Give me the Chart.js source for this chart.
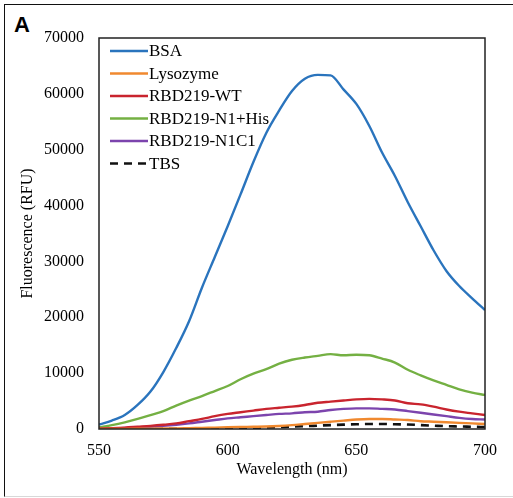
<!DOCTYPE html>
<html>
<head>
<meta charset="utf-8">
<script src="https://cdn.jsdelivr.net/npm/chart.js@4.4.1/dist/chart.umd.min.js"></script>
<style>
  html, body { margin: 0; padding: 0; background: #fff; }
  #wrap { position: relative; width: 513px; height: 498px; overflow: hidden; }
  #frame { position: absolute; left: 4px; top: 4px; width: 560px; height: 491px;
           border-top: 1.5px solid #111; border-left: 1.5px solid #111; border-bottom: 1px solid #d8d8d8; }
  #panel { position: absolute; left: 14px; top: 12px; font: bold 22px "Liberation Sans", Arial, sans-serif; color: #000; }
  canvas { position: absolute; left: 0; top: 0; }
</style>
</head>
<body>
<div id="wrap">
  <div id="frame"></div>
  <div id="panel">A</div>
  <canvas id="c" width="513" height="498"></canvas>
</div>
<script>
const wavelengths = [550,555,560,565,570,575,580,585,590,595,600,605,610,615,620,625,630,635,640,645,650,655,660,665,670,675,680,685,690,695,700];
const seriesNames = ["BSA","Lysozyme","RBD219-WT","RBD219-N1+His","RBD219-N1C1","TBS"];
const bsa      = [800,1500,2500,4300,6700,10200,14500,19300,25300,30800,36300,42000,47800,53000,57000,60500,62700,63400,63300,60800,58200,54300,49500,45300,40600,36300,32000,28300,25600,23400,21300];
const lysozyme = [0,0,20,40,60,80,100,150,200,250,300,350,400,450,550,700,900,1100,1300,1500,1700,1800,1800,1700,1600,1400,1300,1200,1100,1000,900];
const rbdWT    = [100,150,250,400,550,750,1000,1400,1800,2300,2700,3000,3300,3600,3800,4000,4300,4700,4900,5100,5300,5400,5300,5100,4600,4400,4000,3500,3100,2800,2500];
const rbdN1His = [300,700,1200,1800,2500,3200,4200,5100,5900,6800,7700,8900,9900,10700,11700,12400,12800,13100,13400,13200,13300,13200,12600,11900,10600,9600,8700,7900,7100,6500,6100];
const rbdN1C1  = [50,100,200,300,400,550,750,1000,1300,1600,1900,2100,2300,2500,2700,2800,3000,3100,3400,3600,3700,3700,3600,3500,3200,2900,2600,2300,2000,1800,1700];
const tbs      = [0,0,0,0,0,20,40,60,80,90,100,150,200,280,350,420,500,600,700,780,850,900,900,850,800,700,600,500,450,400,350];
const xTicks = [550,600,650,700];
const yTicks = [0,10000,20000,30000,40000,50000,60000,70000];

const colors = ["#2a74bd","#f0892f","#c9242e","#74b043","#7c44ad","#111111"];
const allSeries = [bsa, lysozyme, rbdWT, rbdN1His, rbdN1C1, tbs];

const datasets = seriesNames.map((name, i) => ({
  label: name,
  data: wavelengths.map((w, j) => ({x: w, y: allSeries[i][j]})),
  borderColor: colors[i],
  backgroundColor: colors[i],
  borderWidth: i === 5 ? 2.6 : 2.4,
  borderDash: i === 5 ? [8, 6] : [],
  pointRadius: 0,
  cubicInterpolationMode: 'monotone',
  fill: false
}));
const font = "'Liberation Serif', 'Times New Roman', serif";

const framePlugin = {
  id: 'frame',
  afterDatasetsDraw(chart) {
    const {ctx, chartArea: a} = chart;
    ctx.save();
    ctx.strokeStyle = '#222';
    ctx.lineWidth = 1.5;
    ctx.strokeRect(a.left, a.top, a.right - a.left, a.bottom - a.top);
    ctx.restore();
  }
};

const legendPlugin = {
  id: 'insideLegend',
  afterDraw(chart) {
    const {ctx} = chart;
    ctx.save();
    ctx.font = "17px " + font;
    ctx.textBaseline = 'middle';
    ctx.textAlign = 'left';
    chart.data.datasets.forEach((ds, i) => {
      const y = 51 + i * 22.5;
      ctx.beginPath();
      ctx.strokeStyle = ds.borderColor;
      ctx.lineWidth = ds.borderWidth;
      ctx.setLineDash(ds.borderDash || []);
      ctx.moveTo(110, y);
      ctx.lineTo(148, y);
      ctx.stroke();
      ctx.setLineDash([]);
      ctx.fillStyle = '#000';
      ctx.fillText(ds.label, 149, y + 1);
    });
    ctx.restore();
  }
};

new Chart(document.getElementById('c'), {
  type: 'line',
  data: { datasets },
  options: {
    responsive: false,
    animation: false,
    layout: { padding: { left: 0, top: 38, right: 28, bottom: 0 } },
    plugins: { legend: { display: false }, tooltip: { enabled: false } },
    scales: {
      x: {
        type: 'linear',
        min: 550, max: 700,
        afterBuildTicks: s => { s.ticks = xTicks.map(v => ({value: v})); },
        afterFit: s => { s.height = 69; },
        grid: { display: false, drawTicks: false },
        border: { display: false },
        ticks: { color: '#000', font: { family: font, size: 16 }, padding: 12, maxRotation: 0 },
        title: { display: true, text: 'Wavelength (nm)', color: '#000', font: { family: font, size: 16 }, padding: { top: 0, bottom: 19 } }
      },
      y: {
        min: 0, max: 70000,
        afterBuildTicks: s => { s.ticks = yTicks.map(v => ({value: v})); },
        afterFit: s => { s.width = 99; },
        grid: { display: false, drawTicks: false },
        border: { display: false },
        ticks: { color: '#000', font: { family: font, size: 16 }, padding: 15, callback: v => String(v) },
        title: { display: true, text: 'Fluorescence (RFU)', color: '#000', font: { family: font, size: 16 }, padding: { top: 18, bottom: 0 } }
      }
    }
  },
  plugins: [framePlugin, legendPlugin]
});
</script>
</body>
</html>
